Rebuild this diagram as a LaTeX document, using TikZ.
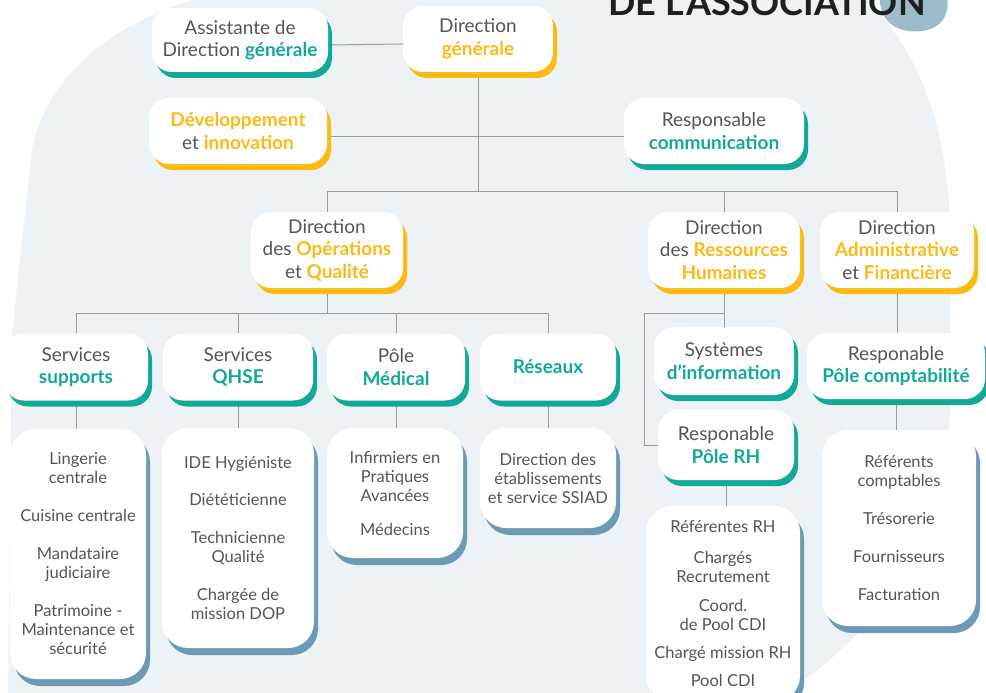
\documentclass[tikz,border=0pt]{standalone}
\usepackage{fontspec}
\setmainfont{Lato}
\usetikzlibrary{shadows}
\definecolor{txt}{HTML}{555555}
\definecolor{tealc}{HTML}{12A997}
\definecolor{yelc}{HTML}{FDBA12}
\definecolor{blu}{HTML}{6B9BB4}
\definecolor{bgc}{HTML}{ECF2F5}
\definecolor{blobc}{HTML}{9CBBCB}
\definecolor{linec}{HTML}{9B9B9B}
\newcommand\emT[1]{{\color{tealc}\bfseries #1}}
\newcommand\emY[1]{{\color{yelc}\bfseries #1}}
\pgfdeclarelayer{bgfill}
\pgfdeclarelayer{background}
\pgfsetlayers{bgfill,background,main}
\tikzset{
  box/.style={fill=white, rounded corners=20pt, align=center, inner sep=0pt, text=txt,
    font=\fontsize{19}{22.5}\selectfont},
  tealbox/.style={box, general shadow={fill=tealc, shadow xshift=4pt, shadow yshift=-6pt}},
  yelbox/.style={box, general shadow={fill=yelc, shadow xshift=4pt, shadow yshift=-6pt}},
  listbox/.style={box, rounded corners=26pt, font=\fontsize{16.5}{19}\selectfont,
    general shadow={fill=blu, shadow xshift=4pt, shadow yshift=-7pt}},
  conn/.style={draw=linec, line width=1pt}
}
\begin{document}
\begin{tikzpicture}[x=1pt,y=-1pt]
\useasboundingbox (0,0) rectangle (986,693);
\begin{pgfonlayer}{bgfill}
\fill[bgc] (8,700) -- (12,333) -- (32,150) .. controls (45,80) and (110,20) .. (210,-5)
  -- (862,-5) .. controls (915,45) and (948,120) .. (950,230) -- (950,400)
  .. controls (950,520) and (900,620) .. (775,700) -- cycle;
\fill[blobc] (880,-5) .. controls (878,22) and (898,34) .. (922,31)
  .. controls (944,28) and (950,12) .. (947,-5) -- cycle;
\end{pgfonlayer}
\node[font=\fontsize{36}{36}\selectfont\bfseries, text=black!88, anchor=base] (title) at (767,16) {DE L’ASSOCIATION};

% top
\node[tealbox, minimum width=176pt, minimum height=64pt] (asst) at (240,40) {Assistante de\\Direction \emT{générale}};
\node[yelbox, minimum width=150pt, minimum height=66pt] (dg) at (478,39) {Direction\\\emY{générale}};
\node[yelbox, minimum width=178pt, minimum height=66pt] (dev) at (238,131) {\emY{Développement}\\et \emY{innovation}};
\node[tealbox, minimum width=180pt, minimum height=66pt] (com) at (714,131) {Responsable\\\emT{communication}};
% directions
\node[yelbox, minimum width=152pt, minimum height=76pt] (doq) at (327,250) {Direction\\des \emY{Opérations}\\et \emY{Qualité}};
\node[yelbox, minimum width=152pt, minimum height=76pt] (drh) at (724,250) {Direction\\des \emY{Ressources}\\\emY{Humaines}};
\node[yelbox, minimum width=154pt, minimum height=76pt] (daf) at (897,250) {Direction\\\emY{Administrative}\\et \emY{Financière}};
% services
\node[tealbox, minimum width=144pt, minimum height=67pt] (sup) at (76,367) {Services\\\emT{supports}};
\node[tealbox, minimum width=150pt, minimum height=67pt] (qhse) at (238,367) {Services\\\emT{QHSE}};
\node[tealbox, minimum width=138pt, minimum height=67pt] (med) at (396,367) {Pôle\\\emT{Médical}};
\node[tealbox, minimum width=136pt, minimum height=67pt] (res) at (548,367) {\emT{Réseaux}};
\node[tealbox, minimum width=140pt, minimum height=68pt] (sys) at (724,361) {Systèmes\\\emT{d’information}};
\node[tealbox, minimum width=136pt, minimum height=70pt] (rh) at (726,445) {Responable\\\emT{Pôle RH}};
\node[tealbox, minimum width=178pt, minimum height=66pt] (cpt) at (896,366) {Responable\\\emT{Pôle comptabilité}};
% lists
\node[listbox, minimum width=136pt, minimum height=250pt] (l1) at (78,554) {Lingerie\\centrale\\[19pt]Cuisine centrale\\[19pt]Mandataire\\judiciaire\\[19pt]Patrimoine -\\Maintenance et\\sécurité};
\node[listbox, minimum width=152pt, minimum height=220pt] (l2) at (238,538) {IDE Hygiéniste\\[18pt]Diététicienne\\[19pt]Technicienne\\Qualité\\[19pt]Chargée de\\mission DOP};
\node[listbox, minimum width=136pt, minimum height=130pt] (l3) at (395,493) {Infirmiers en\\Pratiques\\Avancées\\[15pt]Médecins};
\node[listbox, minimum width=136pt, minimum height=100pt] (l4) at (548,478) {Direction des\\établissements\\et service SSIAD};
\node[listbox, minimum width=154pt, minimum height=196pt] (l5) at (723,604) {Référentes RH\\[12pt]Chargés\\Recrutement\\[10pt]Coord.\\de Pool CDI\\[9pt]Chargé mission RH\\[9pt]Pool CDI};
\node[listbox, minimum width=154pt, minimum height=196pt] (l6) at (899,528) {Référents\\comptables\\[19pt]Trésorerie\\[19pt]Fournisseurs\\[19pt]Facturation};

\coordinate (bus) at (0,191);
\coordinate (bus2) at (0,313);
\coordinate (rhbend) at (644,313);
\begin{pgfonlayer}{background}
\draw[conn] ([yshift=-5pt]asst.east) -- ([yshift=-5pt]dg.west);
\draw[conn] (dg.south) -- (dg.south |- bus);
\draw[conn] ([yshift=-5pt]dev.east) -- ([yshift=-5pt]com.west);
\draw[conn] (doq.north) -- (doq.north |- bus) -- (daf.north |- bus) -- (daf.north);
\draw[conn] (drh.north |- bus) -- (drh.north);
\draw[conn] (doq.south) -- (doq.south |- bus2);
\draw[conn] (sup.north) -- (sup.north |- bus2) -- (res.north |- bus2) -- (res.north);
\draw[conn] (qhse.north |- bus2) -- (qhse.north);
\draw[conn] (med.north |- bus2) -- (med.north);
\draw[conn] (sup.south) -- (sup.south |- l1.north);
\draw[conn] (qhse.south) -- (qhse.south |- l2.north);
\draw[conn] (med.south) -- (med.south |- l3.north);
\draw[conn] (res.south) -- (res.south |- l4.north);
\draw[conn] (drh.south) -- (drh.south |- sys.north);
\draw[conn] (drh.south |- rhbend) -- (rhbend) -- (rhbend |- rh.west) -- (rh.west);
\draw[conn] (rh.south) -- (rh.south |- l5.north);
\draw[conn] (daf.south) -- (daf.south |- cpt.north);
\draw[conn] (cpt.south) -- (cpt.south |- l6.north);
\end{pgfonlayer}
\end{tikzpicture}
\end{document}
